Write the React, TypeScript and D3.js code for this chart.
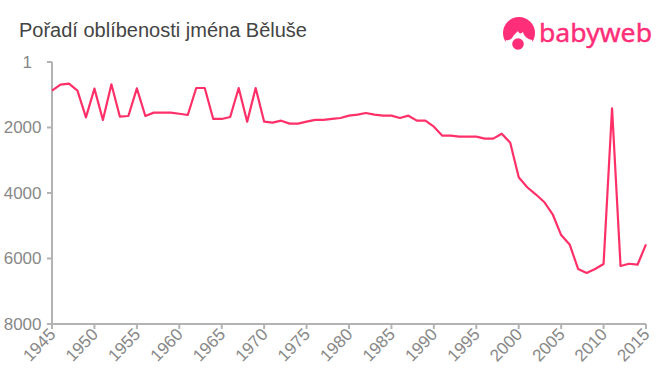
import React from "react";
import * as d3 from "d3";

const years = d3.range(1945, 2016);
const ranks = [
  876, 693, 662, 876, 1690, 815, 1770, 682, 1670, 1650,
  805, 1650, 1547, 1547, 1547, 1580, 1620, 795, 795, 1740,
  1740, 1680, 795, 1822, 795, 1822, 1853, 1792, 1883, 1883,
  1822, 1770, 1770, 1740, 1710, 1640, 1610, 1557, 1610, 1640,
  1640, 1710, 1640, 1792, 1792, 1975, 2250, 2250, 2280, 2280,
  2280, 2340, 2340, 2190, 2465, 3520, 3825, 4040, 4275, 4650,
  5285, 5570, 6320, 6443, 6320, 6170, 1415, 6230, 6160, 6190, 5570,
];
const yTicks = [1, 2000, 4000, 6000, 8000];
const xTicks = d3.range(1945, 2016, 5);
const title = "Pořadí oblíbenosti jména Běluše";
const font = "Arial, 'Liberation Sans', sans-serif";

export default function App() {
  const x = d3.scaleLinear().domain([1945, 2015]).range([52, 646]);
  const y = d3.scaleLinear().domain([1, 8000]).range([62, 324]);
  const line = d3.line<number>().x((_, i) => x(years[i])).y((d) => y(d));
  return (
    <svg width={660} height={375} style={{ position: "absolute", left: 0, top: 0, background: "#fff" }}>
      <text x={19} y={37} fontFamily={font} fontSize={20} fill="#444">{title}</text>
      <g stroke="#b3b3b3" strokeWidth={2} fill="none">
        <path d={`M${x(1945)},${y(1)}V${y(8000)}H${x(2015)}`} />
        {yTicks.map((t) => <path key={t} d={`M${x(1945) - 5},${y(t)}H${x(1945)}`} />)}
        {xTicks.map((t) => <path key={t} d={`M${x(t)},${y(8000)}v5`} />)}
      </g>
      {yTicks.map((t) => (
        <text key={t} x={t === 1 ? 32 : 41.5} y={y(t) + 6} textAnchor="end" fontFamily={font} fontSize={17} fill="#888">{t}</text>
      ))}
      {xTicks.map((t) => (
        <text key={t} transform={`translate(${x(t) - 4},${y(8000) + 3}) rotate(-46)`} textAnchor="end" dy="0.7em"
          fontFamily={font} fontSize={17} fill="#888">{t}</text>
      ))}
      <path d={line(ranks) ?? ""} fill="none" stroke="#ff3068" strokeWidth={2.2} strokeLinejoin="round" />
      <g fill="#ff2e78">
        <circle cx={519} cy={33} r={16} />
        <path d="M503,50 L506,40 C509,41 512,39 514,35 L518,31 C519,34 521,34 523,32 C524,36 527,39 532,40 L535,50 Z" fill="#fff" />
        <circle cx={518} cy={44} r={5.8} />
        <text x={539} y={42} fontFamily="'Noto Sans', 'Open Sans', sans-serif" fontSize={25} stroke="#ff2e78" strokeWidth={0.4}
          textLength={113} lengthAdjust="spacingAndGlyphs">babyweb</text>
      </g>
    </svg>
  );
}
